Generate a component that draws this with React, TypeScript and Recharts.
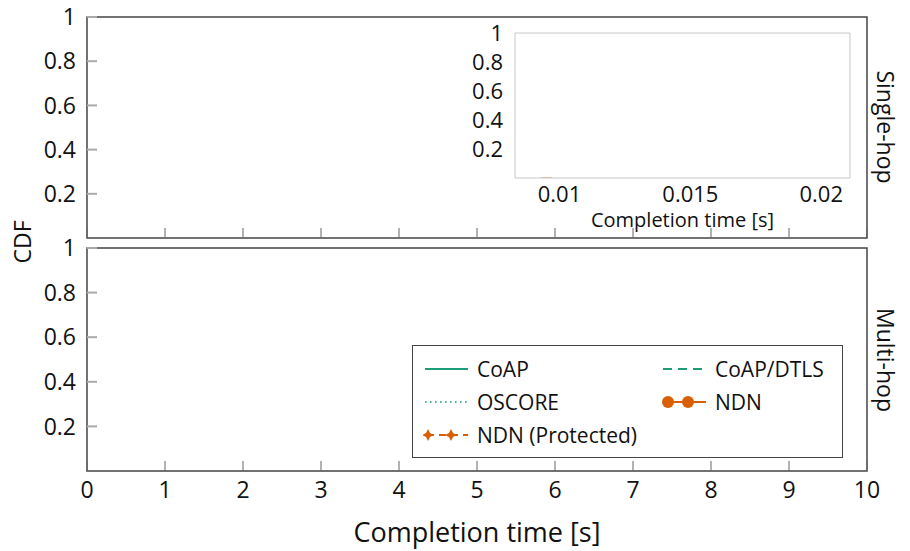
import { LineChart, Line, XAxis, YAxis, ReferenceArea } from "recharts";

const xTicks = [0, 1, 2, 3, 4, 5, 6, 7, 8, 9, 10];
const yTicks = [0.2, 0.4, 0.6, 0.8, 1];
const insetXTicks = [0.01, 0.015, 0.02];
const insetYTicks = [0.2, 0.4, 0.6, 0.8, 1];

// series (their curves are not visible in the main panels)
const seriesNames = ["CoAP", "CoAP/DTLS", "OSCORE", "NDN", "NDN (Protected)"];
const seriesColors = ["#1b9e77", "#1b9e77", "#1b9e77", "#d95f02", "#d95f02"];
const seriesKeys = ["coap", "dtls", "oscore", "ndn", "ndnp"];

// faint NDN traces inside the zoomed inset
const insetTime = [0.0093, 0.0097, 0.0126, 0.0128, 0.0204, 0.0207];
const insetCdf = [0, 0, null, 0, null, 1];

// rows on the tick positions, with no series values drawn
const panelData = xTicks.map((t) => ({ t }));
const insetData = insetTime.map((t, i) => ({ t, cdf: insetCdf[i] }));

const FONT = "'Open Sans', 'Noto Sans', sans-serif";

function LegendIcon({ idx }: { idx: number }) {
  const c = seriesColors[idx];
  return (
    <svg width={46} height={20} style={{ display: "block" }}>
      {idx === 0 && <line x1={2} x2={45} y1={10} y2={10} stroke={c} strokeWidth={2} />}
      {idx === 1 && (
        <line x1={2} x2={45} y1={10} y2={10} stroke={c} strokeWidth={2} strokeDasharray="9 6" />
      )}
      {idx === 2 && (
        <line x1={2} x2={45} y1={10} y2={10} stroke={c} strokeWidth={1.6} strokeDasharray="1.6 3.4" />
      )}
      {idx === 3 && (
        <g>
          <line x1={6} x2={45} y1={10} y2={10} stroke={c} strokeWidth={2} />
          <circle cx={7} cy={10} r={6} fill={c} />
          <circle cx={27} cy={10} r={6} fill={c} />
        </g>
      )}
      {idx === 4 && (
        <g>
          <line x1={4} x2={45} y1={10} y2={10} stroke={c} strokeWidth={2} strokeDasharray="7 5" />
          <path d="M5,4 L7,8 L11,10 L7,12 L5,16 L3,12 L-1,10 L3,8 Z" fill={c} />
          <path d="M28,4 L30,8 L34,10 L30,12 L28,16 L26,12 L22,10 L26,8 Z" fill={c} />
        </g>
      )}
    </svg>
  );
}

function LegendBox() {
  const item = (idx: number) => (
    <div style={{ display: "flex", alignItems: "center", gap: 8, height: 33 }}>
      <LegendIcon idx={idx} />
      <span>{seriesNames[idx]}</span>
    </div>
  );
  return (
    <div
      style={{
        position: "absolute",
        left: 412,
        top: 345,
        width: 429,
        height: 111,
        border: "1.5px solid #444",
        background: "#fff",
        fontFamily: FONT,
        fontSize: 21,
        color: "#111",
        boxSizing: "content-box",
      }}
    >
      <div style={{ position: "absolute", left: 10, top: 6 }}>
        {item(0)}
        {item(2)}
        {item(4)}
      </div>
      <div style={{ position: "absolute", left: 248, top: 6 }}>
        {item(1)}
        {item(3)}
      </div>
    </div>
  );
}

const NoLabel = () => <g />;

function Panel({ top, height, showX }: { top: number; height: number; showX: boolean }) {
  return (
    <div style={{ position: "absolute", left: 0, top }}>
      <LineChart width={910} height={height} data={panelData} margin={{ top: 17, right: 43, left: 0, bottom: 0 }}>
        <XAxis
          type="number"
          dataKey="t"
          domain={[0, 10]}
          allowDataOverflow
          ticks={xTicks}
          interval={0}
          height={showX ? 80 : 10}
          axisLine={false}
          tickSize={-10}
          tickMargin={21}
          tickLine={{ stroke: "#666", strokeWidth: 1 }}
          tick={showX ? { fill: "#111", fontSize: 23, fontFamily: FONT } : NoLabel}
          label={
            showX
              ? {
                  value: "Completion time [s]",
                  position: "insideBottom",
                  offset: 9,
                  fill: "#111",
                  fontSize: 27,
                  fontFamily: FONT,
                }
              : undefined
          }
        />
        <YAxis
          type="number"
          domain={[0, 1]}
          allowDataOverflow
          ticks={yTicks}
          interval={0}
          width={87}
          axisLine={false}
          tickSize={-10}
          tickMargin={21}
          tickLine={{ stroke: "#aaa", strokeWidth: 2 }}
          tick={{ fill: "#111", fontSize: 23, fontFamily: FONT }}
        />
        <ReferenceArea x1={0} x2={10} y1={0} y2={1} fill="none" stroke="#444" strokeWidth={1.5} ifOverflow="visible" />
        {seriesKeys.map((k, i) => (
          <Line
            key={k}
            dataKey={k}
            name={seriesNames[i]}
            stroke={seriesColors[i]}
            dot={false}
            isAnimationActive={false}
          />
        ))}
      </LineChart>
    </div>
  );
}

export default function App() {
  return (
    <div
      style={{
        position: "absolute",
        left: 0,
        top: 0,
        width: 910,
        height: 551,
        background: "#fff",
        overflow: "hidden",
        fontFamily: FONT,
      }}
    >
      <Panel top={0} height={248} showX={false} />
      <Panel top={231} height={320} showX={true} />

      {/* zoomed inset */}
      <div style={{ position: "absolute", left: 440, top: 10 }}>
        <LineChart width={420} height={225} data={insetData} margin={{ top: 23, right: 10, left: 0, bottom: 0 }}>
          <ReferenceArea
            x1={0.0083}
            x2={0.0211}
            y1={0}
            y2={1}
            fill="#fff"
            stroke="#c8c8c8"
            strokeWidth={1}
            ifOverflow="visible"
          />
          <XAxis
            type="number"
            dataKey="t"
            domain={[0.0083, 0.0211]}
            allowDataOverflow
            ticks={insetXTicks}
            interval={0}
            height={57}
            axisLine={false}
            tickLine={false}
            tick={{ fill: "#111", fontSize: 22, fontFamily: FONT }}
            label={{
              value: "Completion time [s]",
              position: "insideBottom",
              offset: 8,
              fill: "#111",
              fontSize: 20,
              fontFamily: FONT,
            }}
          />
          <YAxis
            type="number"
            domain={[0, 1]}
            allowDataOverflow
            ticks={insetYTicks}
            interval={0}
            width={75}
            axisLine={false}
            tickLine={false}
            tickMargin={6}
            tick={{ fill: "#111", fontSize: 22, fontFamily: FONT }}
          />
          <Line
            dataKey="cdf"
            name="NDN"
            stroke="#d95f02"
            strokeOpacity={0.3}
            strokeWidth={2}
            dot={false}
            connectNulls={false}
            isAnimationActive={false}
          />
        </LineChart>
      </div>

      <LegendBox />

      <div
        style={{
          position: "absolute",
          left: 22,
          top: 242,
          transform: "translate(-50%, -50%) rotate(-90deg)",
          fontSize: 23,
          color: "#111",
          whiteSpace: "nowrap",
        }}
      >
        CDF
      </div>
      <div
        style={{
          position: "absolute",
          left: 886,
          top: 127,
          transform: "translate(-50%, -50%) rotate(90deg)",
          fontSize: 23,
          color: "#111",
          whiteSpace: "nowrap",
        }}
      >
        Single-hop
      </div>
      <div
        style={{
          position: "absolute",
          left: 886,
          top: 360,
          transform: "translate(-50%, -50%) rotate(90deg)",
          fontSize: 23,
          color: "#111",
          whiteSpace: "nowrap",
        }}
      >
        Multi-hop
      </div>
    </div>
  );
}
